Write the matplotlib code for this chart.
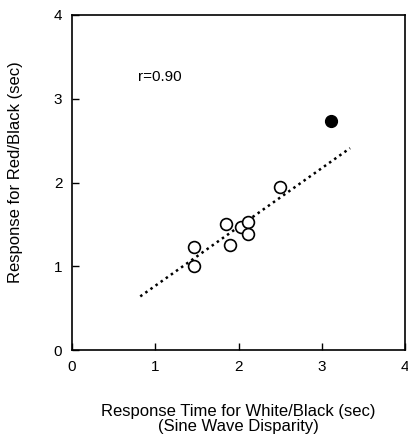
import matplotlib
matplotlib.use("Agg")
import matplotlib.pyplot as plt
import numpy as np

plt.rcParams['font.family'] = ['Liberation Sans', 'DejaVu Sans']

# Data
open_x = [1.46, 1.47, 1.85, 1.90, 2.03, 2.12, 2.11, 2.50]
open_y = [1.00, 1.23, 1.51, 1.25, 1.47, 1.53, 1.38, 1.95]
filled_x = [3.11]
filled_y = [2.74]
fit_x = [0.82, 3.34]
fit_y = [0.64, 2.41]
ticks = [0, 1, 2, 3, 4]

fig = plt.figure(figsize=(4.08, 4.37), dpi=100)
ax = fig.add_axes([72/408, 1-350/437, 333/408, 335/437])

ax.plot(fit_x, fit_y, linestyle=(0, (1, 1.5)), color='black', lw=1.8)
ax.plot(open_x, open_y, 'o', mfc='white', mec='black', ms=8.5, mew=1.2)
ax.plot(filled_x, filled_y, 'o', color='black', ms=8.5)

ax.set_xlim(0, 4)
ax.set_ylim(0, 4)
ax.set_xticks(ticks)
ax.set_yticks(ticks)
ax.tick_params(direction='in', length=5, width=1, labelsize=11, pad=7)
for s in ax.spines.values():
    s.set_linewidth(1.2)

ax.text(0.79, 3.26, 'r=0.90', fontsize=11, va='center', ha='left')

ax.set_xlabel('Response Time for White/Black (sec)\n(Sine Wave Disparity)', fontsize=12, labelpad=22, linespacing=1.0)
ax.set_ylabel('Response for Red/Black (sec)', fontsize=12)
ax.yaxis.set_label_coords(-0.147, 0.53)

fig.savefig('out.png', dpi=100)
